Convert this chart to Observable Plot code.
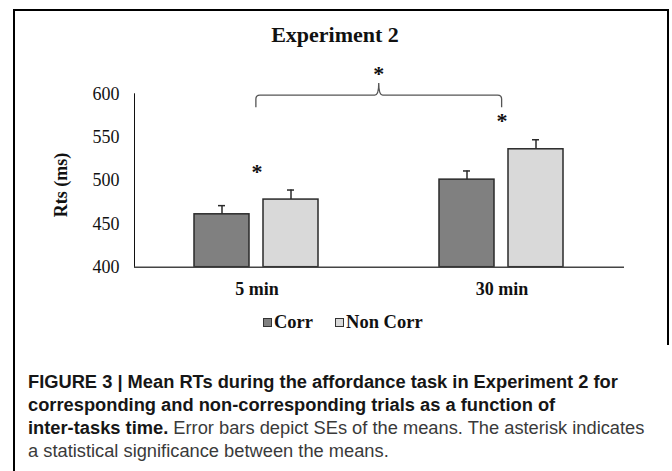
<!DOCTYPE html>
<html>
<head>
<meta charset="utf-8">
<script src="https://cdn.jsdelivr.net/npm/d3@7"></script>
<script src="https://cdn.jsdelivr.net/npm/@observablehq/plot@0.6"></script>
<style>
  html, body { margin: 0; padding: 0; background: #fff; }
  #wrap { position: relative; width: 672px; height: 471px; overflow: hidden; background: #fff; }
  .serif { font-family: "Liberation Serif", "Times New Roman", serif; }
  #title { position: absolute; left: 0; width: 670px; top: 22px; height: 26px; line-height: 26px;
           text-align: center; font-size: 22px; font-weight: bold; color: #111; }
  #ylabel { position: absolute; left: 61px; top: 185px; transform: translate(-50%, -50%) rotate(-90deg);
            font-size: 18px; font-weight: bold; white-space: nowrap; color: #111; }
  #chart { position: absolute; left: 0; top: 50px; }
  #legend { position: absolute; left: 263px; top: 311px; height: 22px; line-height: 22px;
            font-size: 18.5px; font-weight: bold; display: flex; align-items: center; white-space: nowrap; color: #111; }
  #legend .sw { display: inline-block; width: 7px; height: 7px; border: 1.5px solid #333; margin-right: 2px; }
  #legend .item { display: flex; align-items: center; margin-right: 22px; }
  #caption { position: absolute; left: 28px; top: 370px; font-family: "Liberation Sans", Arial, sans-serif;
             font-size: 18.3px; line-height: 23px; white-space: nowrap; color: #3a3a3a; }
  #caption b { color: #161616; }
  .bd { position: absolute; background: #000; }
  [aria-label^="fx-axis"] text { font-weight: bold; }
</style>
</head>
<body>
<div id="wrap">
  <div class="bd" style="left:13px; top:9px; width:2px; height:462px;"></div>
  <div class="bd" style="left:13px; top:9px; width:656px; height:2px;"></div>
  <div class="bd" style="left:667px; top:9px; width:2px; height:336px;"></div>
  <div id="title" class="serif">Experiment 2</div>
  <div id="ylabel" class="serif">Rts (ms)</div>
  <div id="chart"></div>
  <div id="legend" class="serif"></div>
  <div id="caption"><b>FIGURE 3 | Mean RTs during the affordance task in Experiment 2 for</b><br><b>corresponding and non-corresponding trials as a function of</b><br><b>inter-tasks time.</b> Error bars depict SEs of the means. The asterisk indicates<br>a statistical significance between the means.</div>
</div>
<script>
// ---- data ----
const groups = ["5 min", "30 min"];
const series = ["Corr", "Non Corr"];
const corrMeans = [461, 501];
const nonCorrMeans = [478, 536];
const corrSE = [10, 10];
const nonCorrSE = [11, 11];
const yTicks = [400, 450, 500, 550, 600];
const yDomain = [400, 600];
const seriesColors = ["#808080", "#d9d9d9"];
// significance annotations (data units)
const starGroups = ["5 min", "30 min"];
const starValues = [514, 573];
const braceValues = { base: 584, level: 598, peak: 612, star: 627 };

// ---- table ----
const rows = [];
groups.forEach((g, i) => {
  rows.push({group: g, series: series[0], value: corrMeans[i], se: corrSE[i]});
  rows.push({group: g, series: series[1], value: nonCorrMeans[i], se: nonCorrSE[i]});
});
const stars = starGroups.map((g, i) => ({group: g, y: starValues[i]}));

const plot = Plot.plot({
  width: 672,
  height: 260,
  marginLeft: 133,
  marginRight: 47.5,
  marginTop: 43.3,
  marginBottom: 43.3,
  style: {fontFamily: "'Liberation Serif', 'Times New Roman', serif", fontSize: "18px", color: "#111", background: "transparent", overflow: "visible"},
  fx: {domain: groups, padding: 0, label: null, axis: "bottom", tickSize: 0, tickPadding: 15},
  x: {domain: series, paddingInner: 0.2, paddingOuter: 0.87, axis: null},
  y: {domain: yDomain, ticks: yTicks, tickSize: 0, tickPadding: 15, label: null, line: true},
  color: {domain: series, range: seriesColors},
  marks: [
    Plot.barY(rows, {fx: "group", x: "series", y1: yDomain[0], y2: "value", fill: "series", stroke: "#2a2a2a", strokeWidth: 1.5}),
    Plot.ruleX(rows, {fx: "group", x: "series", y1: "value", y2: d => d.value + d.se, stroke: "#2a2a2a", strokeWidth: 1.5}),
    Plot.tickY(rows, {fx: "group", x: "series", y: d => d.value + d.se, stroke: "#2a2a2a", strokeWidth: 1.5, insetLeft: 24, insetRight: 24}),
    Plot.ruleY([yDomain[0]], {stroke: "#444", strokeWidth: 1.5}),
    Plot.text(stars, {fx: "group", y: "y", text: () => "*", fontSize: 22, fontWeight: "bold", dy: 4, fill: "#111"})
  ]
});
document.getElementById("chart").appendChild(plot);

// brace across groups, using Plot's own fx and y scales
const fxs = plot.scale("fx");
const band = d3.scaleBand(fxs.domain, fxs.range)
  .paddingInner(fxs.paddingInner ?? 0).paddingOuter(fxs.paddingOuter ?? 0).align(fxs.align ?? 0.5);
const ysc = plot.scale("y");
const yl = d3.scaleLinear(ysc.domain, ysc.range);
const xl = band(groups[0]) + band.bandwidth() / 2;
const xr = band(groups[1]) + band.bandwidth() / 2;
const xm = (xl + xr) / 2;
const yb = yl(braceValues.base), yh = yl(braceValues.level), yp = yl(braceValues.peak);
const r = 4;
const svg = d3.select(plot.tagName.toLowerCase() === "svg" ? plot : plot.querySelector("svg"));
svg.append("path")
  .attr("fill", "none").attr("stroke", "#555").attr("stroke-width", 1.3)
  .attr("d", `M${xl},${yb} L${xl},${yh + r} Q${xl},${yh} ${xl + r},${yh} L${xm - r},${yh} Q${xm},${yh} ${xm},${yp} Q${xm},${yh} ${xm + r},${yh} L${xr - r},${yh} Q${xr},${yh} ${xr},${yh + r} L${xr},${yb}`);
svg.append("text")
  .attr("x", xm).attr("y", yl(braceValues.star)).attr("dy", 4 + 22 * 0.32)
  .attr("text-anchor", "middle").attr("font-size", 22).attr("font-weight", "bold").attr("fill", "#111")
  .text("*");

// legend
const legend = document.getElementById("legend");
series.forEach((s, i) => {
  const item = document.createElement("span");
  item.className = "item";
  const sw = document.createElement("span");
  sw.className = "sw";
  sw.style.background = seriesColors[i];
  item.appendChild(sw);
  item.appendChild(document.createTextNode(s));
  legend.appendChild(item);
});
</script>
</body>
</html>
